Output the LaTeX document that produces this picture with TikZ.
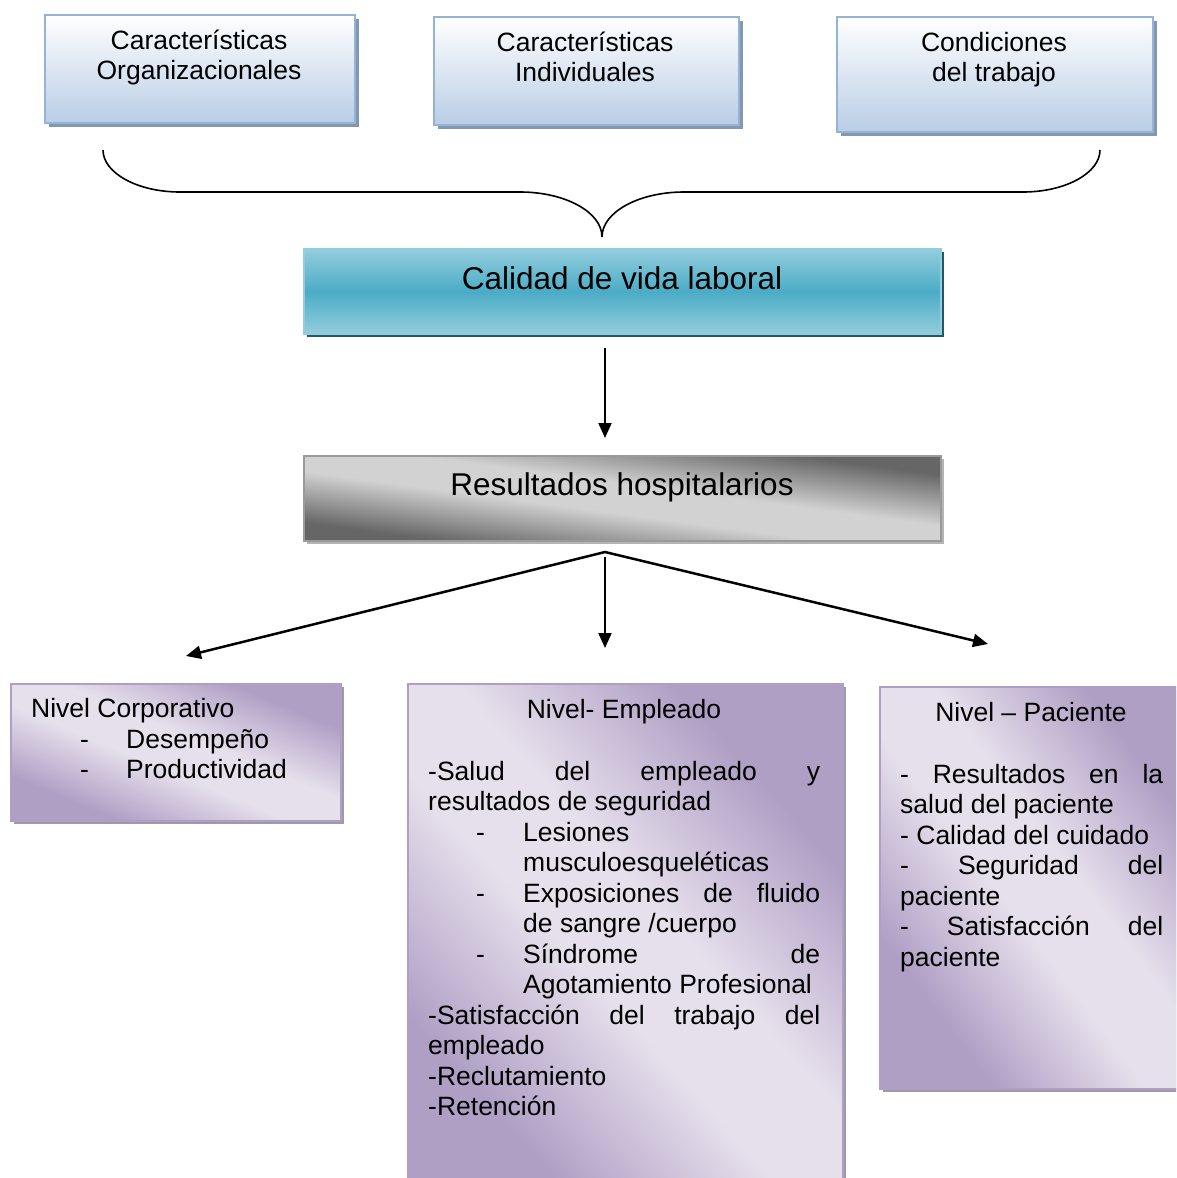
\documentclass[tikz,border=0pt]{standalone}
\usepackage{fontspec}
\setmainfont{Liberation Sans}
\usetikzlibrary{arrows.meta,shadows}
\definecolor{topB}{HTML}{B9CDE5}
\definecolor{topBorder}{HTML}{95B3D7}
\definecolor{topShadow}{HTML}{8497B0}
\definecolor{calLight}{HTML}{93CDDD}
\definecolor{calDark}{HTML}{4BACC6}
\definecolor{calShadow}{HTML}{215968}
\definecolor{grayDark}{HTML}{666666}
\definecolor{grayLight}{HTML}{D2D2D2}
\definecolor{grayBorder}{HTML}{9A9A9A}
\definecolor{grayShadow}{HTML}{B4B4B4}
\definecolor{purLight}{HTML}{E6E0EC}
\definecolor{purDark}{HTML}{B09FC5}
\definecolor{purShadow}{HTML}{A09AA8}
\pgfdeclareverticalshading{calsh}{100bp}{color(0bp)=(calLight); color(25bp)=(calLight); color(50bp)=(calDark); color(75bp)=(calLight); color(100bp)=(calLight)}
\pgfdeclareverticalshading{graysh}{100bp}{color(0bp)=(grayDark); color(28bp)=(grayDark); color(45bp)=(grayLight); color(55bp)=(grayLight); color(72bp)=(grayDark); color(100bp)=(grayDark)}
\pgfdeclareverticalshading{pursh}{100bp}{color(0bp)=(purDark); color(28bp)=(purDark); color(45bp)=(purLight); color(55bp)=(purLight); color(72bp)=(purDark); color(100bp)=(purDark)}
\newcommand\fsn{\fontsize{26.5pt}{30.5pt}\selectfont}
\newcommand\fsb{\fontsize{31.5pt}{36pt}\selectfont}
\begin{document}
\begin{tikzpicture}[x=1pt,y=-1pt,
  box/.style={rectangle, inner sep=0pt, anchor=north west, line width=2pt},
  topbox/.style={box, draw=topBorder, top color=white, bottom color=topB,
    drop shadow={fill=topShadow, opacity=1, shadow xshift=4pt, shadow yshift=-4pt}},
  calbox/.style={box, draw=calLight, shading=calsh,
    drop shadow={fill=calShadow, opacity=1, shadow xshift=3pt, shadow yshift=-3pt}},
  resbox/.style={box, draw=grayBorder, shading=graysh,
    drop shadow={fill=grayShadow, opacity=1, shadow xshift=3pt, shadow yshift=-3pt}},
  purbox/.style={box, draw=purDark, shading=pursh,
    drop shadow={fill=purShadow, opacity=1, shadow xshift=3pt, shadow yshift=-3pt}},
  tl/.style={font=\fsn, inner sep=0pt, anchor=base west},
  tc/.style={font=\fsn, inner sep=0pt, anchor=base},
  tb/.style={font=\fsb, inner sep=0pt, anchor=base},
  arr/.style={-{Triangle[length=15pt,width=13pt]}, line width=2pt},
  brace/.style={line width=1.6pt}
]
\useasboundingbox (0,0) rectangle (1176,1178);
\clip (0,0) rectangle (1176,1178);

% top boxes
\node[topbox, minimum width=310pt, minimum height=108pt] (b1) at (44,14) {};
\node[topbox, minimum width=305pt, minimum height=108pt] (b2) at (433,16) {};
\node[topbox, minimum width=316pt, minimum height=115pt] (b3) at (836,16) {};
\node[tc] (o1) at (199,49) {Características};
\node[tc] (o2) at (199,79) {Organizacionales};
\node[tc] (i1) at (585,51) {Características};
\node[tc] (i2) at (585,81) {Individuales};
\node[tc] (d1) at (994,51) {Condiciones};
\node[tc] (d2) at (994,81) {del trabajo};

% brace
\draw[brace] (103,150) .. controls (103,173) and (137.5,192) .. (180,192)
  -- (520,192) .. controls (565,192) and (602,212) .. (602,237)
  .. controls (602,212) and (639,192) .. (684,192)
  -- (1023,192) .. controls (1065.5,192) and (1100,173) .. (1100,150);

% calidad
\node[calbox, minimum width=637pt, minimum height=85pt] (cal) at (303,248) {};
\node[tb] (calt) at (622,289) {Calidad de vida laboral};

\coordinate (a0) at (605,348);
\coordinate (a0e) at (605,438);
\draw[arr] (a0) -- (a0e);

% resultados
\node[resbox, shading angle=-7.6, minimum width=637pt, minimum height=85pt] (res) at (303,455) {};
\node[tb] (rest) at (622,495) {Resultados hospitalarios};

\coordinate (ap) at (605,552);
\coordinate (aL) at (186,656);
\coordinate (aR) at (988,644);
\coordinate (aC0) at (605,557);
\coordinate (aC) at (605,648);
\draw[line width=2.5pt, {Triangle[length=15pt,width=13pt]}-{Triangle[length=15pt,width=13pt]}] (aL) -- (ap) -- (aR);
\draw[arr] (aC0) -- (aC);

% bottom boxes
\node[purbox, shading angle=-22.5, minimum width=330pt, minimum height=137pt] (corp) at (10,683) {};
\node[purbox, shading angle=-48, minimum width=435pt, minimum height=520pt] (emp) at (407,683) {};
\node[purbox, shading angle=-53, minimum width=320pt, minimum height=402pt] (pac) at (879,686) {};

% corporativo text
\node[tl] (k1) at (31,717) {Nivel Corporativo};
\node[tl] (k2d) at (80,748) {-};
\node[tl] (k2) at (126,748) {Desempeño};
\node[tl] (k3d) at (80,778) {-};
\node[tl] (k3) at (126,778) {Productividad};

% empleado text
\node[tc] (e1) at (624,718) {Nivel- Empleado};
\node[tl] (e2) at (428,780) {\makebox[392pt][s]{-Salud\hfill del\hfill empleado\hfill y}};
\node[tl] (e3) at (428,810.5) {resultados de seguridad};
\node[tl] (e4d) at (476,841) {-};
\node[tl] (e4) at (523,841) {Lesiones};
\node[tl] (e5) at (523,871.5) {musculoesqueléticas};
\node[tl] (e6d) at (476,902) {-};
\node[tl] (e6) at (523,902) {\makebox[297pt][s]{Exposiciones\hfill de\hfill fluido}};
\node[tl] (e7) at (523,932.5) {de sangre /cuerpo};
\node[tl] (e8d) at (476,963) {-};
\node[tl] (e8) at (523,963) {\makebox[297pt][s]{Síndrome\hfill de}};
\node[tl] (e9) at (523,993.5) {Agotamiento Profesional};
\node[tl] (e10) at (428,1024) {\makebox[392pt][s]{-Satisfacción\hfill del\hfill trabajo\hfill del}};
\node[tl] (e11) at (428,1054.5) {empleado};
\node[tl] (e12) at (428,1085) {-Reclutamiento};
\node[tl] (e13) at (428,1115.5) {-Retención};

% paciente text
\node[tc] (p1) at (1031,721) {Nivel – Paciente};
\node[tl] (p2) at (900,783) {\makebox[263pt][s]{-\hfill Resultados\hfill en\hfill la}};
\node[tl] (p3) at (900,813.5) {salud del paciente};
\node[tl] (p4) at (900,844) {- Calidad del cuidado};
\node[tl] (p5) at (900,874.5) {\makebox[263pt][s]{-\hfill Seguridad\hfill del}};
\node[tl] (p6) at (900,905) {paciente};
\node[tl] (p7) at (900,935.5) {\makebox[263pt][s]{-\hfill Satisfacción\hfill del}};
\node[tl] (p8) at (900,966) {paciente};
\end{tikzpicture}
\end{document}
